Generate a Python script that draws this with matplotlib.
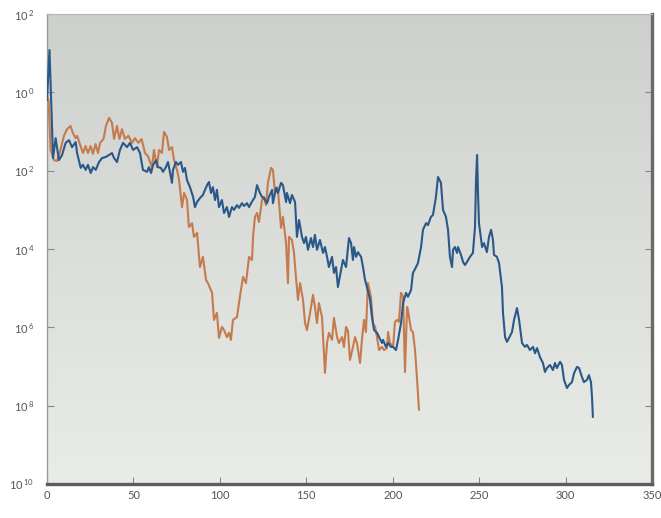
import matplotlib
matplotlib.use("Agg")
import matplotlib.pyplot as plt
import numpy as np
from matplotlib.ticker import FixedLocator, FuncFormatter

# ---------------- DATA ----------------
# blue trace: x position and log10 of the value
blue_x = [0, 1.45, 3.5, 5.0, 6.9, 8.7, 10.8, 12.7, 14.5, 16.6, 17.4, 19.5, 20.8, 22.4,
          23.7, 25.3, 26.6, 28.2, 30.1, 31.8, 34.0, 35.9, 37.6, 38.8, 40.5, 42.2, 44.0,
          46.3, 48.0, 49.8, 52.1, 53.8, 55.5, 57.9, 59.0, 60.2, 61.3, 63.1, 64.2, 65.9,
          67.1, 68.8, 70.0, 72.3, 72.9, 74.6, 75.8, 77.5, 78.7, 79.8, 81.0, 82.7, 84.5,
          85.6, 86.8, 88.5, 90.2, 91.4, 92.6, 93.7, 94.9, 96.0, 97.2, 98.3, 99.5, 101.2,
          102.4, 104.1, 105.3, 107.0, 108.2, 109.9, 111.1, 112.8, 114.0, 115.7, 116.9,
          118.6, 120.3, 121.5, 123.2, 124.4, 125.5, 127.3, 128.4, 130.2, 130.7, 132.5,
          133.6, 135.4, 136.5, 138.3, 138.8, 140.6, 141.7, 143.5, 144.6, 145.8, 147.5,
          148.7, 149.8, 151.0, 152.7, 153.9, 155.0, 156.2, 157.9, 159.7, 160.8, 162.0,
          163.1, 164.9, 166.0, 167.2, 168.3, 170.1, 171.2, 173.0, 174.7, 175.9, 177.0,
          177.6, 178.8, 179.9, 181.7, 182.8, 184.0, 185.1, 186.9, 188.0, 189.2, 190.9,
          192.1, 193.8, 194.4, 196.1, 197.3, 199.0, 200.2, 201.9, 203.1, 204.8, 206.0,
          207.7, 208.8, 210.6, 211.7, 213.5, 214.6, 216.4, 217.5, 219.3, 220.4, 222.1,
          223.3, 225.0, 226.2, 227.9, 229.1, 230.8, 232.0, 233.1, 234.3, 234.9, 236.0,
          237.2, 237.8, 239.5, 240.7, 241.8, 243.0, 244.7, 246.4, 247.6, 248.2, 248.8,
          249.3, 249.9, 251.7, 252.8, 254.5, 255.7, 256.9, 258.0, 258.6, 260.3, 261.5,
          263.2, 263.8, 265.0, 266.1, 267.3, 269.0, 270.2, 271.9, 273.1, 274.8, 276.5,
          277.7, 279.4, 281.2, 282.3, 283.5, 285.2, 286.9, 288.1, 289.2, 291.0, 292.7,
          293.9, 295.0, 296.8, 297.9, 299.1, 300.8, 302.0, 303.7, 304.9, 306.6, 307.8,
          309.5, 310.6, 312.4, 313.5, 314.7, 315.3, 315.8]
blue_exp = [-0.20, 1.08, -1.68, -1.17, -1.73, -1.60, -1.29, -1.22, -1.40, -1.27, -1.55,
            -1.93, -1.85, -1.98, -1.85, -2.06, -1.91, -1.98, -1.78, -1.68, -1.65, -1.60,
            -1.55, -1.68, -1.78, -1.47, -1.29, -1.40, -1.29, -1.47, -1.40, -1.55, -1.98,
            -2.03, -1.91, -2.06, -1.86, -1.73, -1.91, -1.93, -2.03, -1.91, -1.78, -2.31,
            -1.98, -1.78, -1.85, -1.78, -2.03, -1.93, -2.24, -2.42, -2.67, -2.93, -2.80,
            -2.70, -2.62, -2.49, -2.37, -2.29, -2.57, -2.42, -2.75, -2.49, -2.93, -2.75,
            -3.08, -2.93, -3.18, -2.93, -3.00, -2.88, -2.95, -2.83, -2.90, -2.83, -2.93,
            -2.79, -2.67, -2.37, -2.57, -2.67, -2.70, -2.83, -2.67, -2.49, -2.83, -2.44,
            -2.57, -2.31, -2.37, -2.80, -2.57, -2.83, -2.62, -2.80, -3.69, -3.26, -3.69,
            -3.85, -3.69, -4.02, -3.72, -3.95, -3.64, -4.02, -3.77, -4.10, -3.95, -4.20,
            -4.46, -4.20, -4.61, -4.46, -4.97, -4.54, -4.28, -4.46, -3.72, -3.85, -4.28,
            -3.95, -4.20, -4.08, -4.20, -4.46, -4.79, -4.97, -5.30, -5.74, -6.07, -6.14,
            -6.25, -6.40, -6.32, -6.50, -6.40, -6.50, -6.50, -6.58, -6.32, -5.89, -5.38,
            -5.12, -5.22, -5.05, -4.61, -4.46, -4.36, -3.95, -3.51, -3.34, -3.39, -3.18,
            -3.13, -2.67, -2.16, -2.31, -3.00, -3.18, -3.51, -4.20, -4.46, -4.02, -3.95,
            -4.10, -3.95, -4.15, -4.33, -4.41, -4.33, -4.20, -4.10, -3.44, -2.24, -1.60,
            -2.49, -3.34, -3.95, -3.85, -4.08, -3.69, -3.51, -3.77, -4.15, -4.20, -4.36,
            -4.97, -5.63, -6.25, -6.37, -6.27, -6.12, -5.81, -5.51, -5.81, -6.40, -6.50,
            -6.45, -6.58, -6.50, -6.66, -6.53, -6.76, -6.91, -7.14, -7.04, -6.96, -7.09,
            -6.91, -7.04, -6.88, -6.96, -7.34, -7.55, -7.47, -7.40, -7.17, -7.01, -7.04,
            -7.27, -7.40, -7.34, -7.22, -7.40, -7.78, -8.29]

# orange trace
orange_x = [0, 0.9, 2.1, 4.0, 5.8, 7.8, 9.8, 11.6, 13.6, 15.0, 16.5, 17.4, 19.4, 20.8,
            22.3, 23.7, 25.2, 26.6, 28.1, 29.5, 30.7, 32.7, 34.1, 35.9, 37.6, 38.8, 40.5,
            41.9, 43.4, 45.1, 47.1, 49.2, 50.9, 52.9, 54.7, 56.7, 58.4, 60.7, 61.9, 63.6,
            64.8, 66.5, 67.7, 69.4, 70.6, 72.3, 73.5, 75.2, 76.4, 78.1, 79.3, 81.0, 82.1,
            83.9, 85.0, 86.8, 88.5, 90.2, 92.0, 93.1, 95.5, 96.6, 98.3, 99.5, 101.2, 102.4,
            104.1, 105.3, 106.4, 107.6, 109.9, 111.6, 113.4, 115.1, 116.9, 118.6, 119.2,
            120.3, 121.5, 122.6, 124.4, 125.5, 126.7, 127.8, 129.6, 130.7, 131.9, 133.0,
            133.6, 135.4, 136.5, 138.3, 139.4, 140.0, 141.7, 142.9, 144.0, 145.2, 146.4,
            148.1, 149.3, 150.4, 152.2, 153.9, 155.0, 156.2, 157.3, 159.1, 159.7, 160.8,
            162.0, 163.1, 164.9, 166.0, 167.8, 168.9, 170.7, 171.8, 173.0, 174.1, 175.3,
            177.0, 178.2, 179.3, 181.1, 182.2, 183.4, 184.5, 185.7, 187.4, 188.6, 189.8,
            190.9, 192.1, 193.8, 195.0, 196.7, 197.3, 198.4, 200.2, 201.3, 202.5, 203.6,
            204.8, 206.0, 207.1, 208.3, 208.8, 210.6, 211.7, 212.9, 214.0, 215.2]
orange_exp = [-0.12, -0.20, -1.47, -1.73, -1.75, -1.47, -1.11, -0.94, -0.86, -1.04, -1.17,
              -1.11, -1.37, -1.55, -1.37, -1.55, -1.37, -1.57, -1.32, -1.55, -1.29, -1.19,
              -0.86, -0.65, -0.78, -1.19, -0.86, -1.19, -0.94, -1.19, -1.11, -1.29, -1.17,
              -1.29, -1.19, -1.55, -1.63, -1.91, -1.47, -1.91, -1.47, -1.55, -1.01, -1.14,
              -1.47, -1.40, -1.73, -1.98, -2.24, -2.93, -2.57, -2.75, -3.44, -3.34, -3.69,
              -3.59, -4.46, -4.20, -4.79, -4.87, -5.12, -5.81, -5.63, -6.27, -5.99, -6.07,
              -6.25, -6.14, -6.32, -5.81, -5.74, -5.22, -4.71, -4.87, -4.20, -4.28, -3.69,
              -3.18, -3.08, -3.31, -2.75, -2.67, -2.88, -2.31, -1.93, -1.98, -2.57, -2.42,
              -2.49, -3.46, -3.18, -3.85, -4.87, -3.69, -3.77, -4.10, -4.71, -5.30, -4.87,
              -5.30, -5.89, -6.07, -5.63, -5.17, -5.48, -5.89, -5.38, -5.74, -6.25, -7.16,
              -6.40, -6.14, -6.32, -5.76, -6.25, -6.40, -6.25, -6.50, -5.99, -6.09, -6.83,
              -6.50, -6.25, -6.40, -6.91, -6.32, -5.81, -6.12, -4.87, -5.22, -5.89, -5.99,
              -6.25, -6.58, -6.50, -6.58, -6.53, -6.12, -6.40, -6.50, -5.86, -5.81, -5.86,
              -5.12, -5.22, -7.14, -5.48, -5.56, -6.07, -6.12, -6.58, -7.27, -8.11]

X_TICKS = [0, 50, 100, 150, 200, 250, 300, 350]
Y_DECADES = [2, 0, -2, -4, -6, -8, -10]

BLUE = "#2a5888"
ORANGE = "#c47b4e"

plt.rcParams["font.family"] = ["Lato", "DejaVu Sans"]
plt.rcParams["mathtext.fontset"] = "custom"
plt.rcParams["mathtext.rm"] = "Lato"


def decade_label(val, pos):
    k = int(round(np.log10(val)))
    # the reference prints the exponent without its sign
    return r"$\mathregular{10^{\,%d}}$" % abs(k)


# ---------------- PLOT ----------------
fig = plt.figure(figsize=(6.61, 5.18), dpi=100)
rect = [47 / 661, 34 / 518, 605 / 661, 470 / 518]

# gradient backdrop
bg = fig.add_axes(rect, zorder=0)
grad = np.linspace(0, 1, 256)[:, None]
top = np.array([0.805, 0.815, 0.803])
bot = np.array([0.915, 0.925, 0.905])
img = top[None, None, :] * (1 - grad[:, :, None]) + bot[None, None, :] * grad[:, :, None]
bg.imshow(img, aspect="auto", extent=[0, 1, 0, 1])
bg.set_axis_off()

ax = fig.add_axes(rect, zorder=1)
ax.set_facecolor("none")
line_kw = dict(lw=1.5, solid_joinstyle="round", solid_capstyle="round")
ax.plot(blue_x, 10.0 ** np.array(blue_exp), color=BLUE, zorder=3, **line_kw)
ax.plot(orange_x, 10.0 ** np.array(orange_exp), color=ORANGE, zorder=2, **line_kw)

ax.set_yscale("log")
ax.set_xlim(0, 350)
ax.set_ylim(1e-10, 1e2)
ax.xaxis.set_major_locator(FixedLocator(X_TICKS))
ax.yaxis.set_major_locator(FixedLocator([10.0 ** k for k in Y_DECADES]))
ax.yaxis.set_minor_locator(FixedLocator([]))
ax.yaxis.set_major_formatter(FuncFormatter(decade_label))

ax.tick_params(axis="both", direction="in", length=5, width=0.8, color="#888888",
               labelsize=8, labelcolor="#555555")
ax.tick_params(axis="y", right=True, pad=9)
ax.tick_params(axis="x", pad=4)

ax.spines["left"].set_color("#9a9a9a")
ax.spines["left"].set_linewidth(1.0)
ax.spines["top"].set_color("#b8b8b8")
ax.spines["top"].set_linewidth(0.8)
ax.spines["right"].set_color("#6a6a6a")
ax.spines["right"].set_linewidth(2.4)
ax.spines["bottom"].set_color("#5c5c5c")
ax.spines["bottom"].set_linewidth(2.4)

fig.savefig("out.png", dpi=100, facecolor="white")
